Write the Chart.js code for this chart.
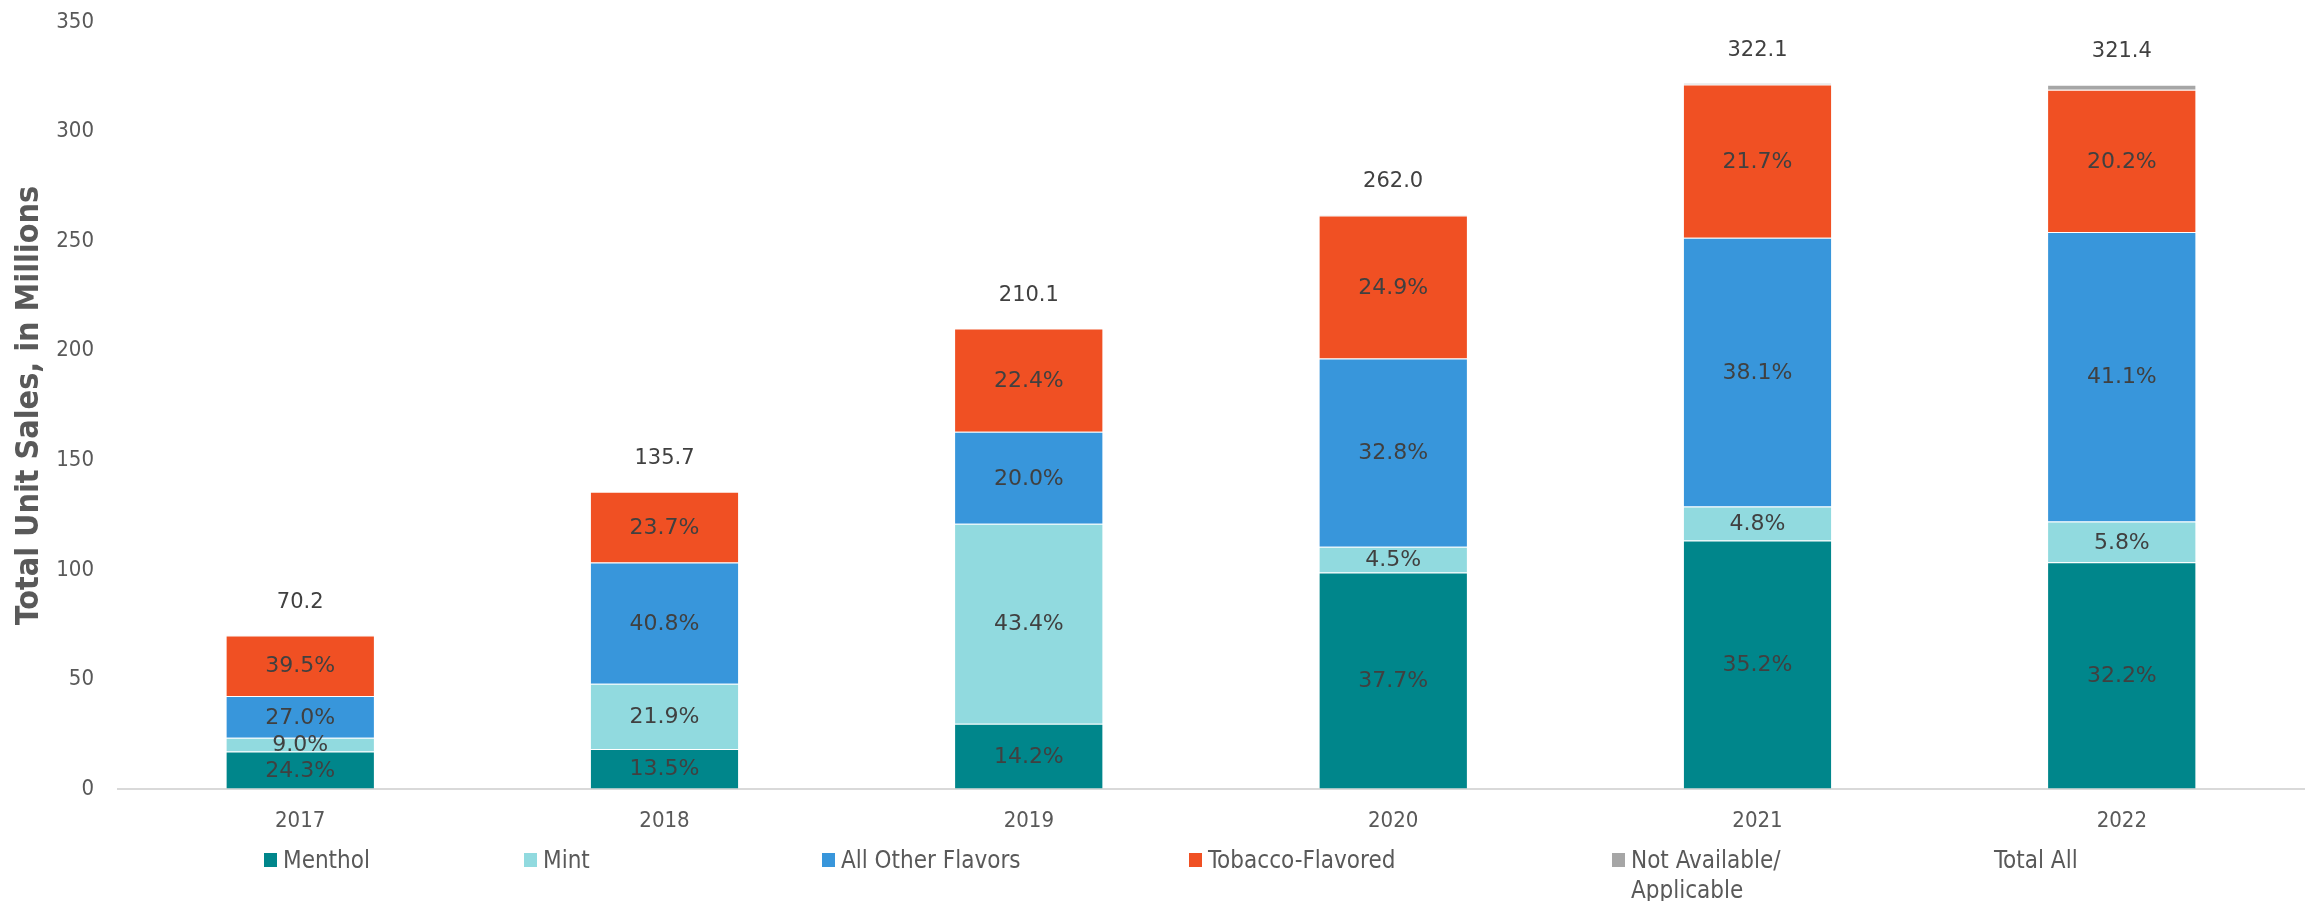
<!DOCTYPE html>
<html>
<head>
<meta charset="utf-8">
<script src="https://cdn.jsdelivr.net/npm/chart.js@4.4.1/dist/chart.umd.min.js"></script>
<style>
  body { margin: 0; background: #fff; }
  #wrap { position: relative; width: 2313px; height: 901px; }
  #legend { position: absolute; left: 0; top: 0; width: 2313px; height: 901px; pointer-events: none; }
  .item { position: absolute; top: 845px; font-family: 'DejaVu Sans Condensed', sans-serif; font-size: 24px; color: #595959; line-height: 30px; }
  .box { position: absolute; left: 0; top: 8px; width: 13px; height: 14px; }
  .txt { position: absolute; left: 19px; top: 0; white-space: nowrap; }
</style>
</head>
<body>
<div id="wrap">
  <canvas id="chart" width="2313" height="901"></canvas>
  <div id="legend"></div>
</div>
<script>
const years = ['2017', '2018', '2019', '2020', '2021', '2022'];

// unit sales, millions
const menthol = [17.1, 18.3, 29.8, 98.8, 113.4, 103.5];
const mint = [6.3, 29.7, 91.2, 11.8, 15.5, 18.6];
const otherFlavors = [19.0, 55.4, 42.0, 85.9, 122.7, 132.1];
const tobacco = [27.7, 32.2, 47.1, 65.2, 69.9, 64.9];
const notAvailable = [0.1, 0.1, 0.0, 0.3, 0.6, 2.3];
const totalAll = [70.2, 135.7, 210.1, 262.0, 322.1, 321.4];

// share labels printed in the bars
const mentholPct = ['24.3%', '13.5%', '14.2%', '37.7%', '35.2%', '32.2%'];
const mintPct = ['9.0%', '21.9%', '43.4%', '4.5%', '4.8%', '5.8%'];
const otherPct = ['27.0%', '40.8%', '20.0%', '32.8%', '38.1%', '41.1%'];
const tobaccoPct = ['39.5%', '23.7%', '22.4%', '24.9%', '21.7%', '20.2%'];

const yTicks = [0, 50, 100, 150, 200, 250, 300, 350];

const legendLeft = [264, 524, 822, 1189, 1612, 1975];

function barSet(label, data, color, pct) {
  return {
    label: label,
    data: data,
    backgroundColor: color,
    borderColor: 'rgba(255,255,255,0.35)',
    borderWidth: { top: 1 },
    borderSkipped: false,
    stack: 'flavors',
    pctLabels: pct,
    categoryPercentage: 1,
    barPercentage: 0.405
  };
}

const datasets = [
  barSet('Menthol', menthol, '#00868B', mentholPct),
  barSet('Mint', mint, '#91DADF', mintPct),
  barSet('All Other Flavors', otherFlavors, '#3896DB', otherPct),
  barSet('Tobacco-Flavored', tobacco, '#F05023', tobaccoPct),
  barSet('Not Available/\nApplicable', notAvailable, '#A6A6A6', null),
  {
    type: 'line',
    label: 'Total All',
    data: totalAll,
    stack: 'total',
    showLine: false,
    pointRadius: 0,
    borderColor: 'rgba(0,0,0,0)',
    backgroundColor: 'rgba(0,0,0,0)'
  }
];

// percent labels inside segments, totals above the bars
const labelPlugin = {
  id: 'labels',
  afterDatasetsDraw(chart) {
    const ctx = chart.ctx;
    ctx.save();
    ctx.fillStyle = '#404040';
    ctx.textAlign = 'center';
    ctx.textBaseline = 'middle';
    chart.data.datasets.forEach((ds, di) => {
      const meta = chart.getDatasetMeta(di);
      if (ds.pctLabels) {
        ctx.font = '22px "DejaVu Sans", sans-serif';
        meta.data.forEach((el, i) => {
          ctx.fillText(ds.pctLabels[i], el.x, (el.y + el.base) / 2 + 1);
        });
      } else if (ds.type === 'line') {
        ctx.font = '21px "DejaVu Sans", sans-serif';
        meta.data.forEach((el, i) => {
          ctx.fillText(ds.data[i].toFixed(1), el.x, el.y - 33);
        });
      }
    });
    ctx.restore();
  }
};

const chart = new Chart(document.getElementById('chart'), {
  type: 'bar',
  data: { labels: years, datasets: datasets },
  plugins: [labelPlugin],
  options: {
    responsive: false,
    animation: false,
    layout: { padding: { top: 22, right: 9, left: 10, bottom: 0 } },
    plugins: {
      legend: { display: false },
      tooltip: { enabled: false }
    },
    scales: {
      x: {
        stacked: true,
        grid: { display: false },
        border: { color: '#D9D9D9', width: 2 },
        ticks: {
          color: '#595959',
          padding: 11,
          font: { family: '"DejaVu Sans Condensed", sans-serif', size: 22 }
        },
        afterFit(scale) { scale.height = 112; }
      },
      y: {
        stacked: true,
        min: 0,
        max: 350,
        // tick marks kept invisible, their length gives the gap to the labels
        grid: { display: true, drawOnChartArea: false, drawTicks: true, tickLength: 24, color: 'rgba(0,0,0,0)' },
        border: { display: false },
        afterBuildTicks(scale) { scale.ticks = yTicks.map(v => ({ value: v })); },
        ticks: {
          color: '#595959',
          padding: 0,
          font: { family: '"DejaVu Sans Condensed", sans-serif', size: 22 }
        },
        title: {
          display: true,
          text: 'Total Unit Sales, in Millions',
          color: '#595959',
          padding: { top: 0, bottom: 0 },
          font: { family: '"DejaVu Sans Condensed", sans-serif', size: 32, weight: 'bold' }
        },
        afterFit(scale) { scale.width = 108; }
      }
    }
  }
});

// legend laid out like the source (fixed columns, no swatch for Total All)
const legend = document.getElementById('legend');
chart.data.datasets.forEach((ds, i) => {
  const item = document.createElement('div');
  item.className = 'item';
  item.style.left = legendLeft[i] + 'px';
  if (ds.type !== 'line') {
    const box = document.createElement('div');
    box.className = 'box';
    box.style.background = ds.backgroundColor;
    item.appendChild(box);
  }
  const txt = document.createElement('div');
  txt.className = 'txt';
  if (ds.type === 'line') txt.style.left = '19px';
  txt.innerHTML = ds.label.replace('\n', '<br>');
  item.appendChild(txt);
  legend.appendChild(item);
});
</script>
</body>
</html>
